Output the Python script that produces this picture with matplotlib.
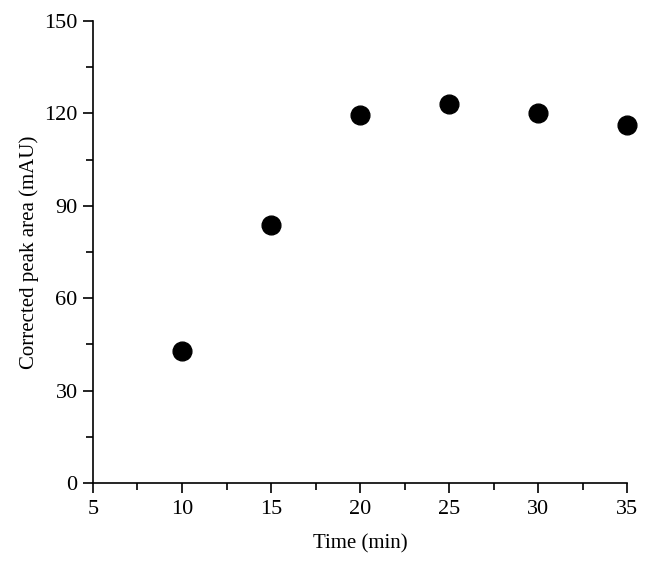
import matplotlib
matplotlib.use('Agg')
from matplotlib import pyplot as plt
from matplotlib.ticker import MultipleLocator

# Data
time_min = [10, 15, 20, 25, 30, 35]
peak_area = [43.0, 83.8, 119.5, 123.1, 120.0, 116.2]

plt.rcParams['font.family'] = ['Liberation Serif', 'DejaVu Serif']

fig = plt.figure(figsize=(6.5, 5.65), dpi=100)
ax = fig.add_axes([0.143, 0.145, 0.822, 0.818])

ax.plot(time_min, peak_area, 'o', color='black', markersize=13.5, clip_on=False)

ax.set_xlim(5, 35)
ax.set_ylim(0, 150)
ax.xaxis.set_major_locator(MultipleLocator(5))
ax.xaxis.set_minor_locator(MultipleLocator(2.5))
ax.yaxis.set_major_locator(MultipleLocator(30))
ax.yaxis.set_minor_locator(MultipleLocator(15))

# Only left and bottom spines
ax.spines['top'].set_visible(False)
ax.spines['right'].set_visible(False)
for s in ('left', 'bottom'):
    ax.spines[s].set_linewidth(1.2)

ax.tick_params(which='major', direction='out', length=7, width=1.2, labelsize=16)
ax.tick_params(which='minor', direction='out', length=5, width=1.2)
ax.tick_params(axis='x', pad=5)
ax.tick_params(axis='y', pad=4)

ax.set_xlabel('Time (min)', fontsize=15, labelpad=11)
ax.set_ylabel('Corrected peak area (mAU)', fontsize=15, labelpad=4)

fig.savefig('out.png', dpi=100)
